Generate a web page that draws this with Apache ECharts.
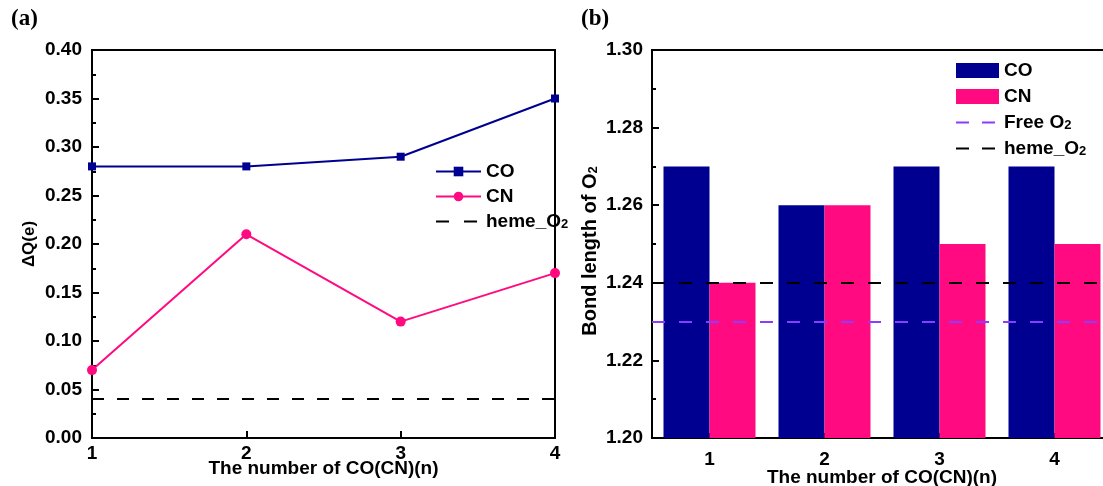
<!DOCTYPE html>
<html><head><meta charset="utf-8">
<script src="https://cdn.jsdelivr.net/npm/echarts@6/dist/echarts.min.js"></script>
<style>html,body{margin:0;padding:0;background:#fff}#c{width:1103px;height:486px}</style>
</head><body><div id="c"></div>
<script>
// ---- data ----
const nValues = [1, 2, 3, 4];
const categories = ['1', '2', '3', '4'];
const dqCO = [0.28, 0.28, 0.29, 0.35];
const dqCN = [0.07, 0.21, 0.12, 0.17];
const dqHemeO2 = 0.04;
const bondCO = [1.27, 1.26, 1.27, 1.27];
const bondCN = [1.24, 1.26, 1.25, 1.25];
const bondFreeO2 = 1.23;
const bondHemeO2 = 1.24;

const FONT = 'Liberation Sans';
const NAVY = '#000090';
const PINK = '#ff0a80';
const PURPLE = '#8a3cff';
const txt = { color: '#000', fontFamily: FONT, fontWeight: 'bold', fontSize: 19 };
const sub = { color: '#000', fontFamily: FONT, fontWeight: 'bold', fontSize: 13, verticalAlign: 'bottom', padding: [6, 0, 0, 0] };

const displayName = { 'CO#a': 'CO', 'CN#a': 'CN', 'heme#a': '{t|heme_O}{s|2}', 'CO#b': 'CO', 'CN#b': 'CN', 'free#b': '{t|Free O}{s|2}', 'heme#b': '{t|heme_O}{s|2}' };

function valueAxisCommon(extra) {
  return Object.assign({
    axisLine: { show: true, onZero: false, lineStyle: { color: '#000', width: 2 } },
    axisTick: { show: true, inside: true, length: 7, lineStyle: { color: '#000', width: 2 } },
    minorTick: { show: true, splitNumber: 2, length: 4, lineStyle: { color: '#000', width: 2 } },
    splitLine: { show: false },
    nameMoveOverlap: false,
    axisLabel: Object.assign({}, txt)
  }, extra);
}

const chart = echarts.init(document.getElementById('c'), null, { renderer: 'canvas' });
chart.setOption({
  animation: false,
  backgroundColor: '#fff',
  graphic: [
    { type: 'text', left: 11, top: 8, style: { text: '(a)', font: 'bold 23px "Liberation Serif"', fill: '#000' } },
    { type: 'text', left: 581, top: 8, style: { text: '(b)', font: 'bold 23px "Liberation Serif"', fill: '#000' } }
  ],
  grid: [
    { left: 92, top: 50, width: 463, height: 388, show: true, borderColor: '#000', borderWidth: 2, containLabel: false, outerBoundsMode: 'none' },
    { left: 652, top: 50, width: 460, height: 388, show: true, borderColor: '#000', borderWidth: 2, containLabel: false, outerBoundsMode: 'none' }
  ],
  legend: [
    {
      orient: 'vertical', left: 430, top: 157, itemWidth: 45, itemHeight: 12, itemGap: 6,
      data: ['CO#a', 'CN#a', { name: 'heme#a', itemStyle: { opacity: 0 } }],
      formatter: n => displayName[n],
      textStyle: Object.assign({}, txt, { rich: { t: txt, s: sub } })
    },
    {
      orient: 'vertical', left: 950, top: 56, itemWidth: 43, itemHeight: 15, itemGap: 7,
      data: [{ name: 'CO#b', icon: 'rect' }, { name: 'CN#b', icon: 'rect' },
             { name: 'free#b', itemStyle: { opacity: 0 } }, { name: 'heme#b', itemStyle: { opacity: 0 } }],
      formatter: n => displayName[n],
      textStyle: Object.assign({}, txt, { rich: { t: txt, s: sub } })
    }
  ],
  xAxis: [
    valueAxisCommon({
      gridIndex: 0, type: 'value', min: 1, max: 4, interval: 1,
      minorTick: { show: false },
      axisLabel: Object.assign({}, txt, { margin: 6 }),
      name: 'The number of CO(CN)(n)', nameLocation: 'middle', nameGap: 21,
      nameTextStyle: txt
    }),
    {
      gridIndex: 1, type: 'category', data: categories,
      axisLine: { show: true, lineStyle: { color: '#000', width: 2 } },
      axisTick: { show: true, inside: true, alignWithLabel: true, length: 5, lineStyle: { color: '#000', width: 2 } },
      axisLabel: Object.assign({}, txt, { margin: 12 }),
      nameMoveOverlap: false,
      name: 'The number of CO(CN)(n)', nameLocation: 'middle', nameGap: 30,
      nameTextStyle: txt
    }
  ],
  yAxis: [
    valueAxisCommon({
      gridIndex: 0, type: 'value', min: 0, max: 0.4, interval: 0.05,
      axisLabel: Object.assign({}, txt, { margin: 10, formatter: v => v.toFixed(2) }),
      name: 'ΔQ(e)', nameLocation: 'middle', nameGap: 54, nameRotate: 90,
      nameTextStyle: Object.assign({}, txt, { fontSize: 17 })
    }),
    valueAxisCommon({
      gridIndex: 1, type: 'value', min: 1.2, max: 1.3, interval: 0.02,
      axisLabel: Object.assign({}, txt, { margin: 9, formatter: v => v.toFixed(2) }),
      name: '{t|Bond length of O}{s|2}', nameLocation: 'middle', nameGap: 52, nameRotate: 90,
      nameTextStyle: Object.assign({}, txt, { fontSize: 20, padding: [0, 14, 0, 0], rich: { t: Object.assign({}, txt, { fontSize: 20 }), s: sub } })
    })
  ],
  series: [
    {
      name: 'CO#a', type: 'line', xAxisIndex: 0, yAxisIndex: 0,
      data: nValues.map((n, i) => [n, dqCO[i]]),
      symbol: 'rect', symbolSize: 8, color: NAVY,
      lineStyle: { color: NAVY, width: 2 }, itemStyle: { color: NAVY }
    },
    {
      name: 'CN#a', type: 'line', xAxisIndex: 0, yAxisIndex: 0,
      data: nValues.map((n, i) => [n, dqCN[i]]),
      symbol: 'circle', symbolSize: 10, color: PINK,
      lineStyle: { color: PINK, width: 2 }, itemStyle: { color: PINK }
    },
    {
      name: 'heme#a', type: 'line', xAxisIndex: 0, yAxisIndex: 0, data: [],
      symbol: 'none', color: '#000', lineStyle: { color: '#000', width: 2, type: [13, 15] },
      markLine: { silent: true, symbol: 'none', label: { show: false },
        lineStyle: { color: '#000', width: 2, type: [12, 13] }, data: [{ yAxis: dqHemeO2 }] }
    },
    {
      name: 'CO#b', type: 'bar', xAxisIndex: 1, yAxisIndex: 1, data: bondCO,
      barCategoryGap: '20%', barGap: '0%', itemStyle: { color: NAVY }, color: NAVY
    },
    {
      name: 'CN#b', type: 'bar', xAxisIndex: 1, yAxisIndex: 1, data: bondCN,
      barCategoryGap: '20%', barGap: '0%', itemStyle: { color: PINK }, color: PINK
    },
    {
      name: 'free#b', type: 'line', xAxisIndex: 1, yAxisIndex: 1, data: [],
      symbol: 'none', color: PURPLE, lineStyle: { color: PURPLE, width: 2, type: [13, 13] },
      markLine: { silent: true, symbol: 'none', label: { show: false },
        lineStyle: { color: PURPLE, width: 2, type: [13, 14] }, data: [{ yAxis: bondFreeO2 }] }
    },
    {
      name: 'heme#b', type: 'line', xAxisIndex: 1, yAxisIndex: 1, data: [],
      symbol: 'none', color: '#000', lineStyle: { color: '#000', width: 2, type: [13, 13] },
      markLine: { silent: true, symbol: 'none', label: { show: false },
        lineStyle: { color: '#000', width: 2, type: [13, 14] }, data: [{ yAxis: bondHemeO2 }] }
    }
  ]
});
</script>
</body></html>
